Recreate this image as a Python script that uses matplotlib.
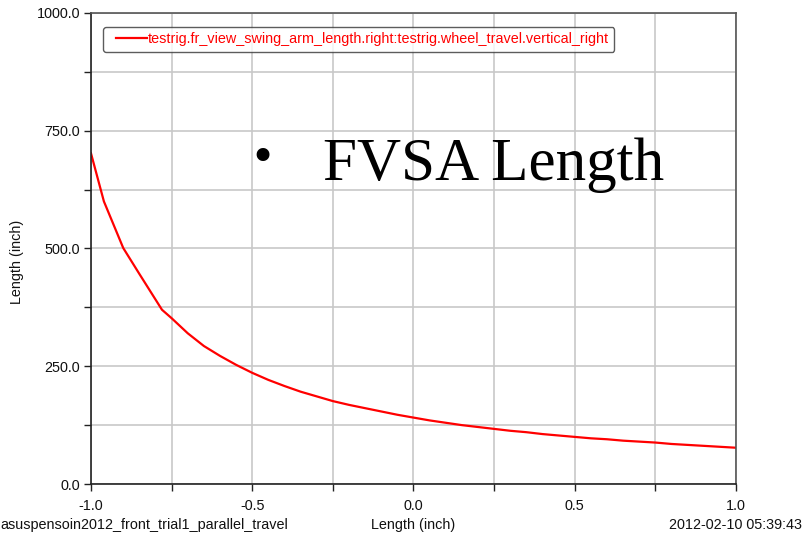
import matplotlib
matplotlib.use("Agg")
import numpy as np
import matplotlib.pyplot as plt
from matplotlib.ticker import MultipleLocator, FormatStrFormatter
from matplotlib.legend_handler import HandlerLine2D

wheel_travel = [-1.0, -0.96, -0.9, -0.85, -0.78, -0.75, -0.7, -0.65, -0.6, -0.55,
                -0.5, -0.45, -0.4, -0.35, -0.3, -0.25, -0.2, -0.15, -0.1, -0.05,
                0.0, 0.05, 0.1, 0.15, 0.2, 0.25, 0.3, 0.35, 0.4, 0.45,
                0.5, 0.55, 0.6, 0.65, 0.7, 0.75, 0.8, 0.85, 0.9, 0.95, 1.0]
fvsa_length = [702, 600, 501, 446, 370, 352, 320, 293, 272, 253,
               236, 221, 208, 196, 186, 176, 168, 161, 154, 147,
               141, 135, 130, 125, 121, 117, 113, 110, 106, 103,
               100, 97, 95, 92, 90, 88, 85, 83, 81, 79, 77]
series_label = "testrig.fr_view_swing_arm_length.right:testrig.wheel_travel.vertical_right"

plt.rcParams['font.family'] = ['Liberation Sans', 'DejaVu Sans']
FS = 10.4


class InsetLineHandler(HandlerLine2D):
    def get_xdata(self, legend, xdescent, ydescent, width, height, fontsize):
        xdata = np.array([-xdescent + 0.2 * width, -xdescent + width])
        return xdata, xdata


fig = plt.figure(figsize=(8.03, 5.38), dpi=100)
ax = fig.add_axes([91/803, 54/538, 645/803, 471/538])

line, = ax.plot(wheel_travel, fvsa_length, color='#ff0000', lw=1.6, label=series_label)
ax.set_xlim(-1.0, 1.0)
ax.set_ylim(0, 1000)

ax.xaxis.set_major_locator(MultipleLocator(0.5))
ax.xaxis.set_minor_locator(MultipleLocator(0.25))
ax.yaxis.set_major_locator(MultipleLocator(250))
ax.yaxis.set_minor_locator(MultipleLocator(125))
ax.xaxis.set_major_formatter(FormatStrFormatter('%.1f'))
ax.yaxis.set_major_formatter(FormatStrFormatter('%.1f'))
ax.grid(True, which='both', color='#c8c8c8', lw=1.2)
ax.set_axisbelow(True)
ax.tick_params(which='both', direction='out', length=5, width=1, color='#222222',
               labelsize=FS, labelcolor='#111111', pad=3)
ax.tick_params(axis='x', which='major', pad=5.5)

for s in ['left', 'bottom']:
    ax.spines[s].set_color('#222222')
    ax.spines[s].set_linewidth(1.2)
for s in ['top', 'right']:
    ax.spines[s].set_color('#555555')
    ax.spines[s].set_linewidth(1.2)

ax.set_ylabel('Length (inch)', fontsize=FS, color='#111111')
ax.yaxis.set_label_coords((24 - 91) / 645, (484 - 262) / 471)

leg = ax.legend(loc='upper left', bbox_to_anchor=(12/645, 1 - 14/471), fontsize=FS,
                frameon=True, fancybox=True, handlelength=2.67, handletextpad=0.05,
                borderpad=0.38, borderaxespad=0, labelcolor='#ff0000', edgecolor='#333333',
                handler_map={line: InsetLineHandler()})
leg.get_frame().set_linewidth(1.0)

fig.text(0.0, 1 - 525/538, 'asuspensoin2012_front_trial1_parallel_travel', fontsize=FS,
         ha='left', va='center', color='#111111')
fig.text(413/803, 1 - 525/538, 'Length (inch)', fontsize=FS, ha='center', va='center',
         color='#111111')
fig.text(802/803, 1 - 525/538, '2012-02-10 05:39:43', fontsize=FS, ha='right',
         va='center', color='#111111')

fig.text(262/803, 1 - 158/538, '\u2022', fontsize=32, ha='center', va='center',
         color='black', family=['DejaVu Serif'])
fig.text(323/803, 1 - 180/538, 'FVSA Length', fontsize=44, ha='left', va='baseline',
         color='black', family=['Liberation Serif', 'DejaVu Serif'])

fig.savefig('out.png', dpi=100)
